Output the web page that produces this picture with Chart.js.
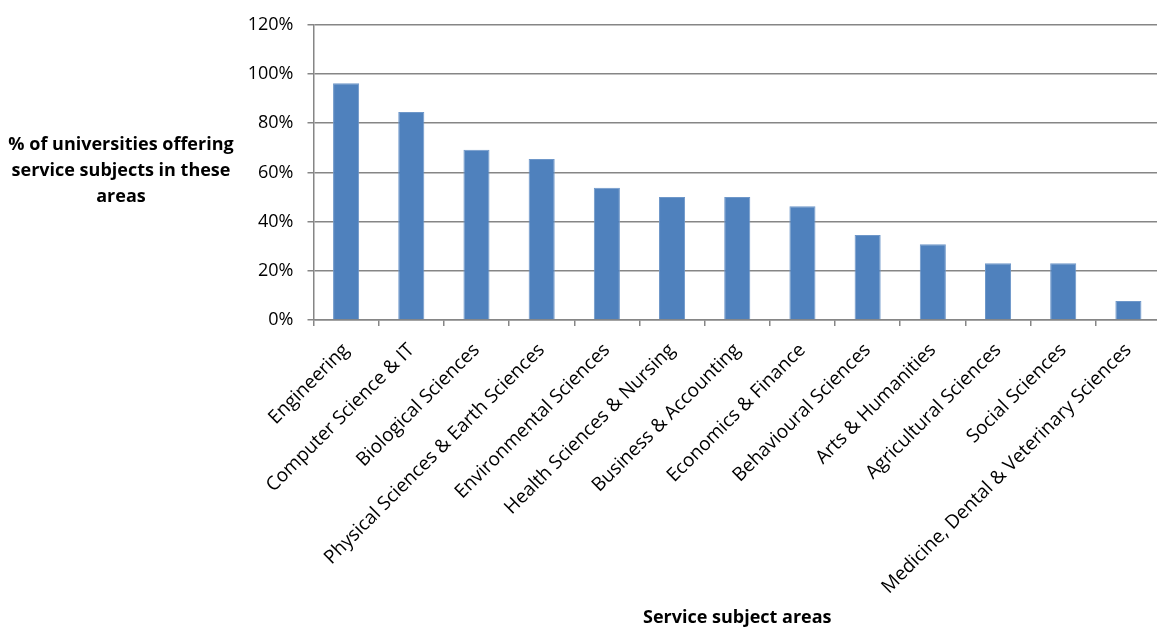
<!DOCTYPE html>
<html>
<head>
<meta charset="utf-8">
<script src="https://cdn.jsdelivr.net/npm/chart.js@4.4.0/dist/chart.umd.min.js"></script>
<style>
  html, body { margin: 0; padding: 0; background: #fff; overflow: hidden; }
  #wrap { width: 1162px; height: 629px; }
</style>
</head>
<body>
<div id="wrap"><canvas id="chart"></canvas></div>
<script>
// --- Data ---
const subjects = [
  "Engineering", "Computer Science & IT", "Biological Sciences",
  "Physical Sciences & Earth Sciences", "Environmental Sciences",
  "Health Sciences & Nursing", "Business & Accounting", "Economics & Finance",
  "Behavioural Sciences", "Arts & Humanities", "Agricultural Sciences",
  "Social Sciences", "Medicine, Dental & Veterinary Sciences"
];
const percentOffering = [96.2, 84.6, 69.2, 65.4, 53.8, 50, 50, 46.2, 34.6, 30.8, 23.1, 23.1, 7.7];
const yTitleLines = ["% of universities offering", "service subjects in these", "areas"];
const xTitle = "Service subject areas";

const FONT = "'Open Sans', sans-serif";
const GRID = "#868686";

// y axis title drawn horizontally, like the original
const yTitlePlugin = {
  id: "yTitle",
  afterDraw(chart) {
    const ctx = chart.ctx;
    ctx.save();
    ctx.font = "bold 18px " + FONT;
    ctx.fillStyle = "#000";
    ctx.textAlign = "center";
    ctx.textBaseline = "middle";
    yTitleLines.forEach((t, i) => ctx.fillText(t, 121, 145 + i * 26));
    ctx.restore();
  }
};

new Chart(document.getElementById("chart"), {
  type: "bar",
  data: {
    labels: subjects,
    datasets: [{
      data: percentOffering,
      backgroundColor: "#4F81BD",
      borderColor: "#6E97C9",
      borderWidth: 1,
      barPercentage: 0.4,
      categoryPercentage: 1
    }]
  },
  options: {
    responsive: true,
    maintainAspectRatio: false,
    animation: false,
    layout: { padding: { top: 21, right: 1, left: 0, bottom: 0 } },
    plugins: { legend: { display: false }, tooltip: { enabled: false } },
    scales: {
      x: {
        afterFit: (s) => { s.height = 309; },
        grid: { offset: true, drawOnChartArea: false, drawTicks: true, tickLength: 6, color: GRID, lineWidth: 1.5 },
        border: { color: GRID, width: 1.5 },
        ticks: {
          autoSkip: false, minRotation: 45, maxRotation: 45, padding: 13,
          color: "#000", font: { family: FONT, size: 19 }
        },
        title: {
          display: true, text: xTitle, color: "#000",
          font: { family: FONT, size: 18, weight: "bold" },
          padding: { top: 0, bottom: 0 }
        }
      },
      y: {
        min: 0, max: 120,
        afterFit: (s) => { s.width = 313.5; },
        grid: { color: GRID, lineWidth: 1.5, drawTicks: true, tickLength: 6 },
        border: { color: GRID, width: 1.5 },
        ticks: {
          stepSize: 20, padding: 14, color: "#000",
          font: { family: FONT, size: 18 },
          callback: (v) => v + "%"
        }
      }
    }
  },
  plugins: [yTitlePlugin]
});
</script>
</body>
</html>
